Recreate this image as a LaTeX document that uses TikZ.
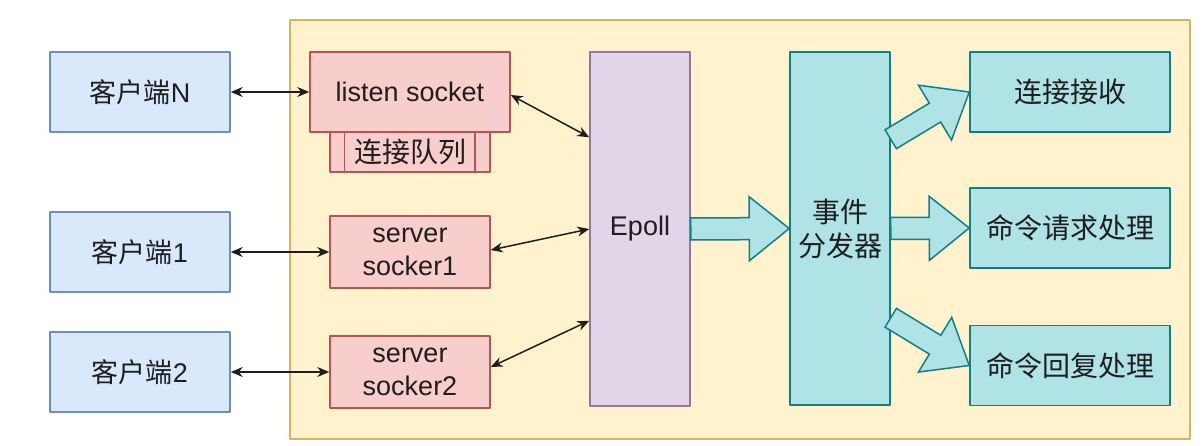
\documentclass[tikz,border=0pt]{standalone}
\usepackage{fontspec}
\setmainfont{Liberation Sans}
\newfontfamily\cjk{Noto Sans CJK SC}
\usepackage{tikz}
\usetikzlibrary{arrows.meta,shapes,calc}
\definecolor{cliFill}{HTML}{DAE8FC}
\definecolor{cliLine}{HTML}{6C8EBF}
\definecolor{sockFill}{HTML}{F8CECC}
\definecolor{sockLine}{HTML}{B85450}
\definecolor{pollFill}{HTML}{E1D5E7}
\definecolor{pollLine}{HTML}{9673A6}
\definecolor{tealFill}{HTML}{B0E3E6}
\definecolor{tealLine}{HTML}{0E8088}
\definecolor{areaFill}{HTML}{FFF2CC}
\definecolor{areaLine}{HTML}{D6B656}
\definecolor{ink}{HTML}{1E1E1E}
% flat arrow: tail coordinate, tip coordinate
\newcommand{\fatarrow}[2]{%
  \coordinate (fh) at ($(#2)!40bp!(#1)$);
  \draw[fatarr] ($(#1)!11bp!90:(#2)$) -- ($(fh)!11bp!-90:(#1)$) -- ($(fh)!32bp!-90:(#1)$)
    -- (#2) -- ($(fh)!32bp!90:(#1)$) -- ($(fh)!11bp!90:(#1)$) -- ($(#1)!11bp!-90:(#2)$) -- cycle;
}
\begin{document}
\begin{tikzpicture}[>={Stealth[length=12bp,width=10bp]},line join=bevel,
  box/.style={draw,line width=1.5bp,inner sep=0pt,align=center,text=ink,
    font=\fontsize{27bp}{33bp}\selectfont},
  cbox/.style={box,font=\cjk\fontsize{28bp}{34bp}\selectfont},
  client/.style={box,fill=cliFill,draw=cliLine,minimum width=180bp,minimum height=80bp},
  sock/.style={box,fill=sockFill,draw=sockLine,minimum width=160bp,minimum height=72bp},
  teal/.style={cbox,fill=tealFill,draw=tealLine},
  link/.style={<->,line width=1.5bp,draw=ink},
  fatarr/.style={draw=tealLine,fill=tealFill,line width=1.5bp,line join=miter},
]
%%
\useasboundingbox (0bp,0bp) rectangle (1202bp,446bp);
\node (area) at (740bp,216.5bp) [draw=areaLine,fill=areaFill,line width=1.5bp,minimum width=900bp,minimum height=419bp] {};
%
\node (cN) at (140bp,354bp) [client] {{\cjk 客户端}N};
  \node (c1) at (140bp,194bp) [client] {{\cjk 客户端}1};
  \node (c2) at (140bp,74bp) [client] {{\cjk 客户端}2};
%
\node (queue) at (410bp,294bp) [sock,cbox,minimum height=40bp] {连接队列};
  \draw [draw=sockLine,line width=1.5bp] ([xshift=15bp]queue.north west) -- ([xshift=15bp]queue.south west);
  \draw [draw=sockLine,line width=1.5bp] ([xshift=-16bp]queue.north east) -- ([xshift=-16bp]queue.south east);
  \node (listen) at (410bp,354bp) [sock,minimum width=200bp,minimum height=80bp] {listen socket};
  \node (ss1) at (410bp,194bp) [sock] {server\\socker1};
  \node (ss2) at (410bp,74bp) [sock] {server\\socker2};
%
\node (epoll) at (640bp,217bp) [box,fill=pollFill,draw=pollLine,minimum width=100bp,minimum height=354bp] {Epoll};
  \node (disp) at (840bp,217.5bp) [teal,minimum width=100bp,minimum height=353bp] {事件\\分发器};
  \node (r1) at (1070bp,354bp) [teal,minimum width=200bp,minimum height=80bp] {连接接收};
  \node (r2) at (1070bp,218bp) [teal,minimum width=200bp,minimum height=80bp] {命令请求处理};
  \node (r3) at (1070bp,80.5bp) [teal,minimum width=200bp,minimum height=80bp] {命令回复处理};
%
\draw [link] (cN.east) -- (listen.west);
  \draw [link] (c1.east) -- (ss1.west);
  \draw [link] (c2.east) -- (ss2.west);
  \draw [link] ([yshift=-3bp]listen.east) -- ([yshift=-86bp]epoll.north west);
  \draw [link] ([yshift=2bp]ss1.east) -- (epoll.west);
  \draw [link] ([yshift=5bp]ss2.east) -- ([yshift=86bp]epoll.south west);
%
\coordinate (t1) at ([yshift=-88bp]disp.north east);
  \coordinate (t3) at ([yshift=88bp]disp.south east);
  \fatarrow{epoll.east}{disp.west}
  \fatarrow{disp.east}{r2.west}
  \fatarrow{t1}{r1.west}
  \fatarrow{t3}{r3.west}
%
\end{tikzpicture}
\end{document}
